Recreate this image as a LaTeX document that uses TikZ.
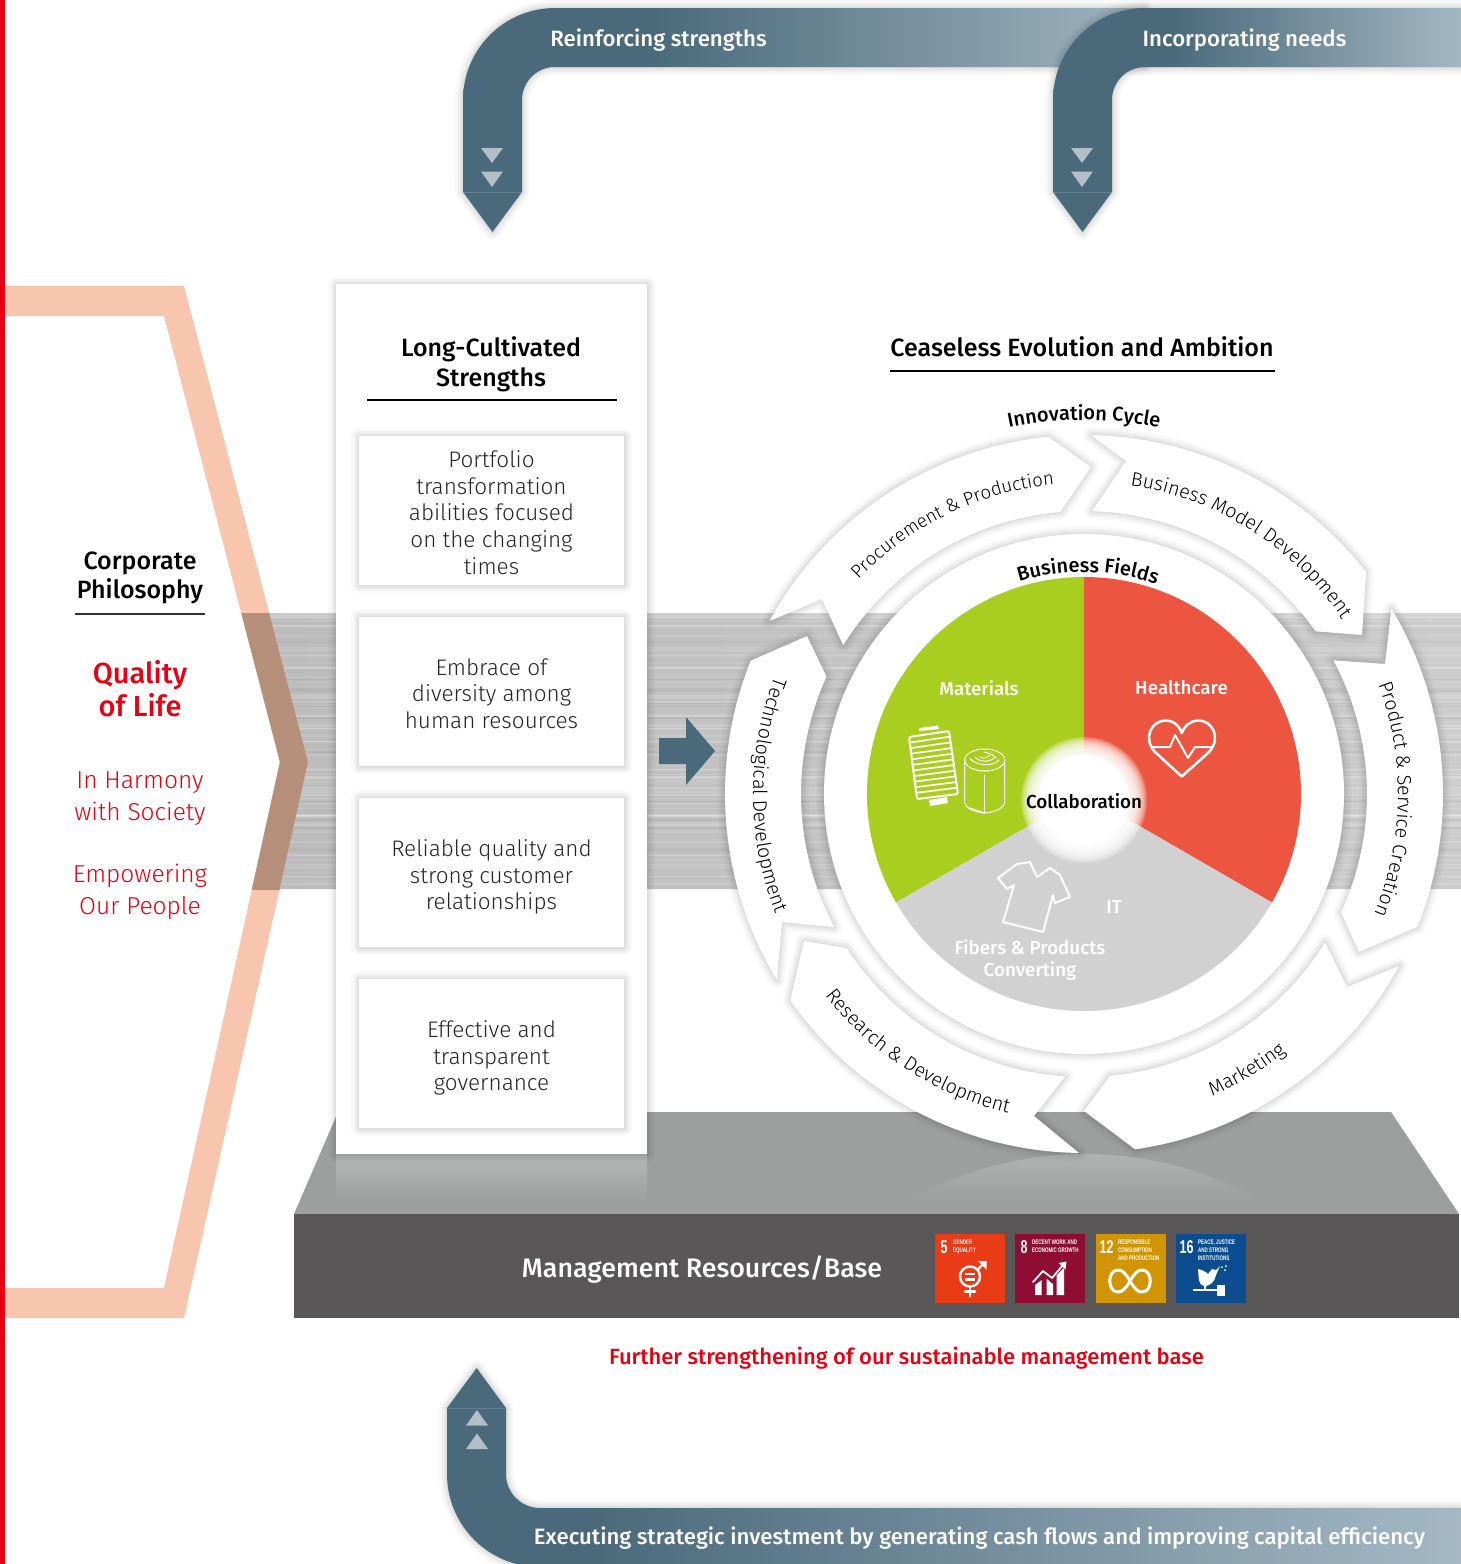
\documentclass[tikz,border=0pt]{standalone}
\usepackage{fontspec}
\setmainfont{Fira Sans Light}
\newfontfamily\fm{Fira Sans Medium}
\newfontfamily\fr{Fira Sans}
\newfontfamily\fn{Liberation Sans}[FakeStretch=0.68,BoldFeatures={FakeStretch=0.68}]
\usetikzlibrary{calc,decorations.text}
\definecolor{bluedark}{HTML}{4A6A7B}
\definecolor{bluelight}{HTML}{A6B9C5}
\definecolor{bluemid}{HTML}{A0B4C0}
\definecolor{tri}{HTML}{B2BFC7}
\definecolor{salmon}{HTML}{F8C6AE}
\definecolor{qred}{HTML}{E60012}
\definecolor{bandgray}{HTML}{BABABA}
\definecolor{bandlight}{HTML}{CCCCCC}
\definecolor{platform}{HTML}{9D9E9E}
\definecolor{platlight}{HTML}{B7B9B8}
\definecolor{basedark}{HTML}{595757}
\definecolor{pgreen}{HTML}{AACE1F}
\definecolor{pred}{HTML}{EC5540}
\definecolor{pgray}{HTML}{D1D1D1}
\definecolor{sdga}{HTML}{EA3B17}
\definecolor{sdgb}{HTML}{8F0C33}
\definecolor{sdgc}{HTML}{D09500}
\definecolor{sdgd}{HTML}{0B4D8E}
\pgfdeclarehorizontalshading{blueA}{100bp}{color(0bp)=(bluedark); color(38.7bp)=(bluedark); color(75bp)=(bluemid); color(100bp)=(bluemid)}
\pgfdeclarehorizontalshading{blueB}{100bp}{color(0bp)=(bluedark); color(39bp)=(bluedark); color(75bp)=(bluelight); color(100bp)=(bluelight)}
\pgfdeclarehorizontalshading{blueC}{100bp}{color(0bp)=(bluedark); color(32bp)=(bluedark); color(75bp)=(bluelight); color(100bp)=(bluelight)}
\newcommand\fs[2]{\fontsize{#1}{#2}\selectfont}
\newcommand\arcfont{\fs{19.6}{20}\rmfamily}
\newcommand\arcfontsm{\fs{18.6}{20}\rmfamily}
\newcommand\arcbold{\fs{20}{20}\fm}
\newcommand\arctext[5]{\path[decorate,decoration={text along path,text format delimiters={|}{|},text={|#4|#5},text align=center}] ($(wc)+(#2:#1)$) arc[start angle=#2,end angle=#3,radius=#1];}
\tikzset{
  softshadow/.style={
    preaction={draw=black,draw opacity=.025,line width=16,line join=round},
    preaction={draw=black,draw opacity=.03,line width=11,line join=round},
    preaction={draw=black,draw opacity=.035,line width=7,line join=round},
    preaction={draw=black,draw opacity=.04,line width=3,line join=round}},
  cardbox/.style={fill=white,softshadow},
  cyclearrow/.style={fill=white,softshadow},
  bodytext/.style={font=\fs{22.5}{26.7}\rmfamily,align=center,text=black!85,inner sep=0},
  headtext/.style={font=\fs{25}{30}\fm,align=center,text=black,inner sep=0},
  banner/.style={font=\fs{22.2}{26}\fm,text=white,inner sep=0},
  redlight/.style={font=\fs{24.5}{32}\rmfamily,align=center,text=qred,inner sep=0},
  pielabel/.style={font=\fs{18.8}{22}\fm,text=white,align=center,inner sep=0},
  sdgnum/.style={font=\fs{18.5}{18}\fn\bfseries,text=white,inner sep=0,anchor=center},
  sdgtxt/.style={font=\fs{6.6}{8.3}\fn\bfseries,text=white,inner sep=0,anchor=north west,align=left},
  icon/.style={draw=white,line width=2,line join=round,line cap=round},
  thinicon/.style={draw=white,line width=1,line join=round,line cap=round},
  tritri/.style={fill=tri},
}
\begin{document}
\begin{tikzpicture}[x=1pt,y=1pt,yscale=-1]
\useasboundingbox (0,0) rectangle (1461,1564);
\clip (0,0) rectangle (1461,1564);
\coordinate (wc) at (1084,794);
\fill[white] (0,0) rectangle (1461,1564);
\fill[qred] (0,0) rectangle (5,1564);

% brushed band
\begin{scope}
\clip (241.7,613) -- (280,762) -- (252,889) -- (1461,889) -- (1461,613) -- cycle;
\shade[left color=bandgray,right color=bandlight] (200,613) rectangle (1461,889);
\pgfmathsetseed{11}
\foreach \i in {1,...,110}{
  \pgfmathsetmacro\yy{613+276*rnd}
  \pgfmathsetmacro\wd{0.8+2.2*rnd}
  \pgfmathsetmacro\op{0.04+0.13*rnd}
  \draw[draw=white,draw opacity=\op,line width=\wd] (200,\yy) -- (1461,\yy);
}
\foreach \i in {1,...,40}{
  \pgfmathsetmacro\yy{613+276*rnd}
  \pgfmathsetmacro\wd{0.8+1.5*rnd}
  \pgfmathsetmacro\op{0.01+0.03*rnd}
  \draw[draw=black,draw opacity=\op,line width=\wd] (200,\yy) -- (1461,\yy);
}
\end{scope}

% chevron
\fill[salmon] (5,286) -- (184,286) -- (308,762) -- (184,1318) -- (5,1318) -- (5,1288) -- (164,1288) -- (280,762) -- (164,316) -- (5,316) -- cycle;
\begin{scope}
\clip (200,613) rectangle (340,889);
\fill[fill={rgb,255:red,181;green,143;blue,122}] (184,286) -- (308,762) -- (184,1318) -- (164,1288) -- (280,762) -- (164,316) -- cycle;
\end{scope}

% platform
\fill[platform] (294,1214) -- (338,1112) -- (1391,1112) -- (1459,1214) -- cycle;
\shade[top color=platlight,bottom color=platform] (336,1154) rectangle (647,1200);
\shade[top color=platlight,bottom color=platform] (910,1200) arc[start angle=240.55,end angle=299.45,radius=356] -- cycle;
\fill[basedark] (294,1214) rectangle (1459,1318);

% column
\path[cardbox] (336,284) rectangle (647,1154);
\path[cardbox] (359,436) rectangle (624,585);
\path[cardbox] (359,617) rectangle (624,766);
\path[cardbox] (359,798) rectangle (624,947);
\path[cardbox] (359,979) rectangle (624,1128);

% banners
\path[softshadow,shading=blueA] (463,192) -- (463,100) arc[start angle=180,end angle=270,radius=92] -- (1145,8) -- (1145,67) -- (555,67) arc[start angle=270,end angle=180,radius=33] -- (522,192) -- (492.5,232) -- cycle;
\path[softshadow,shading=blueB] (1053,192) -- (1053,100) arc[start angle=180,end angle=270,radius=92] -- (1470,8) -- (1470,67) -- (1145,67) arc[start angle=270,end angle=180,radius=33] -- (1112,192) -- (1082.5,232) -- cycle;
\path[softshadow,shading=blueC] (447,1408) -- (447,1474) arc[start angle=180,end angle=90,radius=93] -- (1470,1567) -- (1470,1508) -- (540,1508) arc[start angle=90,end angle=180,radius=34] -- (506,1408) -- (476.7,1368) -- cycle;
\draw[draw=white,draw opacity=.15,line width=.8] (463,192) -- (522,192);
\draw[draw=white,draw opacity=.15,line width=.8] (1053,192) -- (1112,192);
\draw[draw=white,draw opacity=.15,line width=.8] (447,1408) -- (506,1408);
\fill[tritri] (481,148) -- (503,148) -- (492,163) -- cycle;
\fill[tritri] (481,171.5) -- (503,171.5) -- (492,187) -- cycle;
\fill[tritri] (1071,148) -- (1093,148) -- (1082,163) -- cycle;
\fill[tritri] (1071,171.5) -- (1093,171.5) -- (1082,187) -- cycle;
\fill[tritri] (466,1425.5) -- (488,1425.5) -- (477,1410) -- cycle;
\fill[tritri] (466,1449) -- (488,1449) -- (477,1433.5) -- cycle;

% middle arrow
\fill[bluedark] (659,738) -- (686,738) -- (686,717) -- (715,751) -- (686,785) -- (686,764) -- (659,764) -- cycle;

% cycle arrows
\path[cyclearrow] ($(wc)+(208.8:359)$) arc[start angle=208.8,end angle=264.3,radius=359] -- (1091,467) -- ($(wc)+(265.2:283)$) arc[start angle=265.2,end angle=211.7,radius=283] -- (822,599) -- cycle;
\path[cyclearrow] ($(wc)+(271.1:359)$) arc[start angle=271.1,end angle=321.8,radius=359] -- (1362,635) -- ($(wc)+(324.9:283)$) arc[start angle=324.9,end angle=271.6,radius=283] -- (1126,461) -- cycle;
\path[cyclearrow] ($(wc)+(-31.1:359)$) arc[start angle=-31.1,end angle=21.7,radius=359] -- (1359,952) -- ($(wc)+(24.7:283)$) arc[start angle=24.7,end angle=-28.2,radius=283] -- (1385,664) -- cycle;
\path[cyclearrow] ($(wc)+(28.6:359)$) arc[start angle=28.6,end angle=81.8,radius=359] -- (1084,1111) -- ($(wc)+(84.7:283)$) arc[start angle=84.7,end angle=31.6,radius=283] -- (1347,987) -- cycle;
\path[cyclearrow] ($(wc)+(90.8:359)$) arc[start angle=90.8,end angle=144.9,radius=359] -- (804,941) -- ($(wc)+(147:283)$) arc[start angle=147,end angle=93.8,radius=283] -- (1034,1116) -- cycle;
\path[cyclearrow] ($(wc)+(148.8:359)$) arc[start angle=148.8,end angle=201.8,radius=359] -- (807,636) -- ($(wc)+(204.5:283)$) arc[start angle=204.5,end angle=151.9,radius=283] -- (782,922) -- cycle;

% wheel
\path[cardbox] (wc) circle[radius=260];
\fill[pgreen] (wc) -- ($(wc)+(150:217)$) arc[start angle=150,end angle=270,radius=217] -- cycle;
\fill[pred] (wc) -- ($(wc)+(270:217)$) arc[start angle=270,end angle=390,radius=217] -- cycle;
\fill[pgray] (wc) -- ($(wc)+(30:217)$) arc[start angle=30,end angle=150,radius=217] -- cycle;
\foreach \r in {63,61.5,...,46}{\fill[white,fill opacity=.22] (1084,800) circle[radius=\r];}
\fill[white] (1084,800) circle[radius=45.5];

% spool
\coordinate (sa) at (909,737);\coordinate (sb) at (949,731);\coordinate (sc) at (958,794);\coordinate (sd) at (917,799);
\fill[white] (919,731) -- (919.5,728) -- (938,725.5) -- (939,729) -- cycle;
\fill[white] (929,800) -- (930,806) -- (948,803) -- (947,797) -- cycle;
\draw[icon,rounded corners=2] (sa) -- (sb) -- (sc) -- (sd) -- cycle;
\foreach \t in {0.09,0.18,...,0.92}{\draw[draw=white,line width=1.7] ($(sa)!\t!(sd)$) -- ($(sb)!\t!(sc)$);}
% roll
\draw[thinicon] (984.7,760) ellipse[x radius=20,y radius=11];
\draw[thinicon] (964.7,760) -- (964.7,803) .. controls (966,809) and (975,812) .. (984.7,813) .. controls (994,812) and (1003,809) .. (1004.7,803) -- (1004.7,760);
\draw[thinicon] (984.7,775) -- (984.7,813);
\draw[thinicon] (967,807) -- (984.7,813);
\draw[thinicon] (970,758) .. controls (974,766) and (994,767) .. (999,760);
\draw[thinicon] (975,757) .. controls (979,762) and (990,763) .. (995,757);
\draw[thinicon] (980,757) .. controls (984,759) and (987,758) .. (990,755);
\draw[thinicon] (984,752) .. controls (989,753) and (994,755) .. (996,758);
% heart
\draw[icon,line width=2.6] (1181.7,776.5) -- (1155,752) .. controls (1142,738) and (1152,720) .. (1166,720.5) .. controls (1173,720.5) and (1179,725) .. (1181.7,733) .. controls (1185,725) and (1191,720.5) .. (1198,720.5) .. controls (1212,720) and (1222,738) .. (1209,752) -- cycle;
\draw[icon] (1153,747) -- (1170,747) -- (1175,735) -- (1188,758) -- (1195,747) -- (1211,747);
% shirt
\draw[icon] (998,878) -- (1017,864) -- (1030,862) -- (1037,877) -- (1050,868) -- (1060,875) -- (1070,897) -- (1055,903) -- (1053,895) -- (1043,932) -- (1003,922) -- (1014,885) -- (1007,889) -- cycle;
% phone
\begin{scope}[shift={(1166.5,-922)},rotate=21.5]
\draw[icon,rounded corners=5] (-20,-40) rectangle (20,40);
\fill[white,rounded corners=3] (-20,-40) -- (20,-40) -- (20,-31) -- (-20,-31) -- cycle;
\fill[white,rounded corners=3] (-20,31) -- (20,31) -- (20,40) -- (-20,40) -- cycle;
\fill[pgray,rounded corners=1] (-5,-37) rectangle (5,-34);
\end{scope}

% arc texts
\arctext{311}{207}{281}{\arcfontsm}{Procurement {\&} Production}
\arctext{312}{261}{343.5}{\arcfont}{Business Model Development}
\arctext{314}{-38}{40}{\arcfont}{Product {\&} Service Creation}
\arctext{328}{85}{34}{\arcfont}{Marketing}
\arctext{328}{165}{80.5}{\arcfont}{Research {\&} Development}
\arctext{331}{220}{139.5}{\arcfont}{Technological Development}
\arctext{374}{245}{295}{\arcbold}{Innovation Cycle}
\arctext{222}{241}{301}{\arcbold}{Business Fields}

% underlines
\draw[black,line width=1.2] (367,400) -- (617,400);
\draw[black,line width=1.2] (890,371) -- (1275,371);
\draw[black!80,line width=1.2] (75,614) -- (205,614);

% left texts
\node[headtext,font=\fs{25}{29}\fm] (corp) at (140,578) {Corporate\\Philosophy};
\node[font=\fs{29}{33}\fm,align=center,text=qred,inner sep=0] (qol) at (140,689) {Quality\\of Life};
\node[redlight] (harm) at (140,799) {In Harmony\\with Society};
\node[redlight] (emp) at (140,892) {Empowering\\Our People};

% column texts
\node[headtext] (lcs) at (491,364) {Long-Cultivated\\Strengths};
\node[bodytext] (s1) at (491.5,512.5) {Portfolio\\transformation\\abilities focused\\on the changing\\times};
\node[bodytext] (s2) at (491.5,693.5) {Embrace of\\diversity among\\human resources};
\node[bodytext] (s3) at (491.5,877) {Reliable quality and\\strong customer\\relationships};
\node[bodytext] (s4) at (491.5,1058) {Effective and\\transparent\\governance};
\node[headtext] (cea) at (1082,347) {Ceaseless Evolution and Ambition};

% pie labels
\node[pielabel] (mat) at (979,688) {Materials};
\node[pielabel] (hea) at (1181.5,688) {Healthcare};
\node[pielabel] (fib) at (1030,960) {Fibers \& Products\\Converting};
\node[pielabel] (it) at (1114,907) {IT};
\node[pielabel,text=black] (col) at (1084,801) {Collaboration};

% banners text
\node[banner] (rein) at (658.5,40) {Reinforcing strengths};
\node[banner] (inc) at (1244.5,40) {Incorporating needs};
\node[banner] (exe) at (979.5,1538.5) {Executing strategic investment by generating cash flows and improving capital efficiency};
\node[font=\fs{22}{26}\fm,text=qred,inner sep=0] (fur) at (906.5,1358.5) {Further strengthening of our sustainable management base};
\node[font=\fs{26.8}{30}\fm,text=white,inner sep=0] (man) at (702,1270) {Management Resources/Base};

% SDG tiles
\fill[sdga] (935,1234) rectangle (1005,1303);
\fill[sdgb] (1015,1234) rectangle (1085,1303);
\fill[sdgc] (1096,1234) rectangle (1166,1303);
\fill[sdgd] (1176,1234) rectangle (1246,1303);
\node[sdgnum] (n5) at (944,1247.5) {5};
\node[sdgtxt] (t5) at (953,1239.5) {GENDER\\EQUALITY};
\node[sdgnum] (n8) at (1024,1247.5) {8};
\node[sdgtxt] (t8) at (1032,1239.5) {DECENT WORK AND\\ECONOMIC GROWTH};
\node[sdgnum] (n12) at (1106.5,1247.5) {12};
\node[sdgtxt] (t12) at (1118,1239.5) {RESPONSIBLE\\CONSUMPTION\\AND PRODUCTION};
\node[sdgnum] (n16) at (1186.5,1247.5) {16};
\node[sdgtxt] (t16) at (1198,1239.5) {PEACE, JUSTICE\\AND STRONG\\INSTITUTIONS};
% gender
\draw[icon,line width=2.4] (970,1276.5) circle[radius=10];
\draw[icon,line width=2.4] (977.5,1269.5) -- (985.5,1262);
\fill[white] (978,1261) -- (986.5,1261) -- (986.5,1269.5) -- cycle;
\draw[icon,line width=2.4] (970,1287) -- (970,1296.5);
\draw[icon,line width=2.4] (965,1291.5) -- (975,1291.5);
\fill[white] (965,1272.5) rectangle (975,1275);
\fill[white] (965,1278) rectangle (975,1280.5);
% growth
\fill[white] (1035,1285) -- (1041.7,1280) -- (1041.7,1295) -- (1035,1295) -- cycle;
\fill[white] (1046.7,1279) -- (1053,1284) -- (1053,1295) -- (1046.7,1295) -- cycle;
\fill[white] (1056.7,1275) -- (1064,1268) -- (1064,1295) -- (1056.7,1295) -- cycle;
\draw[icon,line width=1.8] (1033,1282) -- (1043,1271) -- (1052,1278) -- (1063,1265);
\fill[white] (1058.5,1263) -- (1066.5,1261.5) -- (1065.5,1269.5) -- cycle;
% infinity
\draw[icon,line width=3] (1130,1281) .. controls (1126,1274) and (1122,1269.5) .. (1118,1270) .. controls (1107,1270) and (1107,1292) .. (1118,1292) .. controls (1122,1292.5) and (1126,1288) .. (1130,1281) .. controls (1134,1274) and (1138,1269.5) .. (1142,1270) .. controls (1153,1270) and (1153,1292) .. (1142,1292) .. controls (1138,1292.5) and (1134,1288) .. (1130,1281);
% dove
\fill[white] (1198,1269) .. controls (1203,1270) and (1206,1272) .. (1208,1274) -- (1212,1269) -- (1216,1270) -- (1220,1266) -- (1216,1275) .. controls (1215,1281) and (1211,1285) .. (1206,1286) -- (1206,1289) -- (1204,1289) -- (1204,1286) .. controls (1198,1285) and (1199,1278) .. (1198,1269) -- cycle;
\fill[white] (1193,1288.5) rectangle (1218,1291);
\fill[white] (1217,1285) rectangle (1225,1296);
\foreach \p/\q in {1222/1267,1225/1270,1226/1266}{\fill[white] (\p,\q) circle[radius=1];}
\end{tikzpicture}
\end{document}
